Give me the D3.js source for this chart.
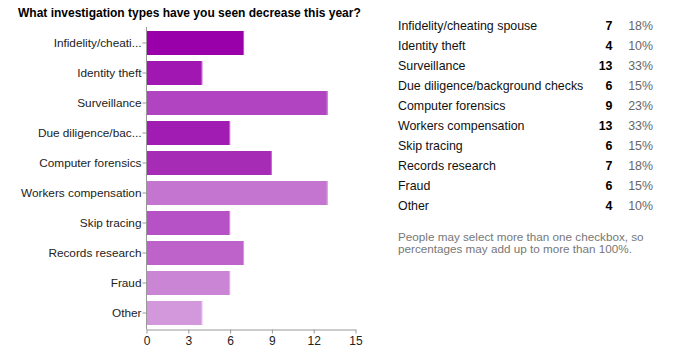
<!DOCTYPE html>
<html><head><meta charset="utf-8">
<script src="https://cdn.jsdelivr.net/npm/d3@7"></script>
<style>
body{margin:0;background:#fff;}
svg{display:block;font-family:"Liberation Sans",Arial,Helvetica,sans-serif;}
</style></head>
<body><svg id="c" width="677" height="357"></svg>
<script>
const title = "What investigation types have you seen decrease this year?";
const categories = ["Infidelity/cheating spouse","Identity theft","Surveillance","Due diligence/background checks","Computer forensics","Workers compensation","Skip tracing","Records research","Fraud","Other"];
const axisLabels = ["Infidelity/cheati...","Identity theft","Surveillance","Due diligence/bac...","Computer forensics","Workers compensation","Skip tracing","Records research","Fraud","Other"];
const counts = [7,4,13,6,9,13,6,7,6,4];
const percents = ["18%","10%","33%","15%","23%","33%","15%","18%","15%","10%"];
const barColors = ["#9900aa","#a117b1","#b144c0","#a11cb3","#a62cb6","#c475cf","#b652c5","#bd63c9","#ca85d5","#d398db"];
const xTicks = [0,3,6,9,12,15];
const noteLines = ["People may select more than one checkbox, so","percentages may add up to more than 100%."];

const svg = d3.select("#c");
svg.append("text").attr("x",18).attr("y",16.5).attr("font-size",12).attr("font-weight","bold").attr("fill","#000").text(title);

const x = d3.scaleLinear().domain([0,15]).range([146.5,355.5]);
const y = d3.scaleBand().domain(categories).range([28,328]).paddingInner(0.2).paddingOuter(0.1);

const g = svg.append("g");
g.selectAll("rect.bar").data(categories).enter().append("rect").attr("class","bar")
  .attr("x",x(0)).attr("y",d=>y(d)).attr("height",y.bandwidth())
  .attr("width",(d,i)=>x(counts[i])-x(0)).attr("fill",(d,i)=>barColors[i]);
g.selectAll("rect.edge").data(categories).enter().append("rect").attr("class","edge")
  .attr("x",(d,i)=>x(counts[i])-1).attr("y",d=>y(d)).attr("height",y.bandwidth())
  .attr("width",1).attr("fill",(d,i)=>d3.interpolateRgb(barColors[i],"#fff")(0.35));

// x axis
const xa = svg.append("g").attr("transform","translate(0,329.5)")
  .call(d3.axisBottom(x).tickValues(xTicks).tickSize(4).tickSizeOuter(0).tickPadding(3));
xa.select(".domain").attr("stroke","#999");
xa.selectAll(".tick line").attr("stroke","#999");
xa.selectAll(".tick text").attr("font-size",12).attr("fill","#222").attr("font-family","Liberation Sans, Arial, sans-serif");

// y axis
const ya = svg.append("g").attr("transform","translate(146.5,0)")
  .call(d3.axisLeft(y).tickSize(4).tickSizeOuter(0).tickPadding(1).tickFormat((d,i)=>axisLabels[i]));
ya.select(".domain").attr("stroke","#999").attr("d","M0,27V329.5");
ya.selectAll(".tick line").attr("stroke","#999");
ya.selectAll(".tick text").attr("font-size",11.8).attr("fill","#222").attr("font-family","Liberation Sans, Arial, sans-serif");

// table
const rowY = i => 25.7 + 20*i;
const t = svg.append("g").attr("font-size",12.4);
t.selectAll("text.lab").data(categories).enter().append("text").attr("class","lab")
  .attr("x",398).attr("y",(d,i)=>rowY(i)).attr("dy","0.35em").attr("fill","#111").text(d=>d);
t.selectAll("text.cnt").data(counts).enter().append("text").attr("class","cnt")
  .attr("x",612.5).attr("y",(d,i)=>rowY(i)).attr("dy","0.35em").attr("text-anchor","end")
  .attr("font-weight","bold").attr("fill","#000").text(d=>d);
t.selectAll("text.pct").data(percents).enter().append("text").attr("class","pct")
  .attr("x",653).attr("y",(d,i)=>rowY(i)).attr("dy","0.35em").attr("text-anchor","end")
  .attr("fill","#666").text(d=>d);
svg.selectAll("text.note").data(noteLines).enter().append("text").attr("class","note")
  .attr("x",398).attr("y",(d,i)=>237.3+12*i).attr("dy","0.35em").attr("font-size",11.7)
  .attr("fill","#777").text(d=>d);
</script></body></html>
